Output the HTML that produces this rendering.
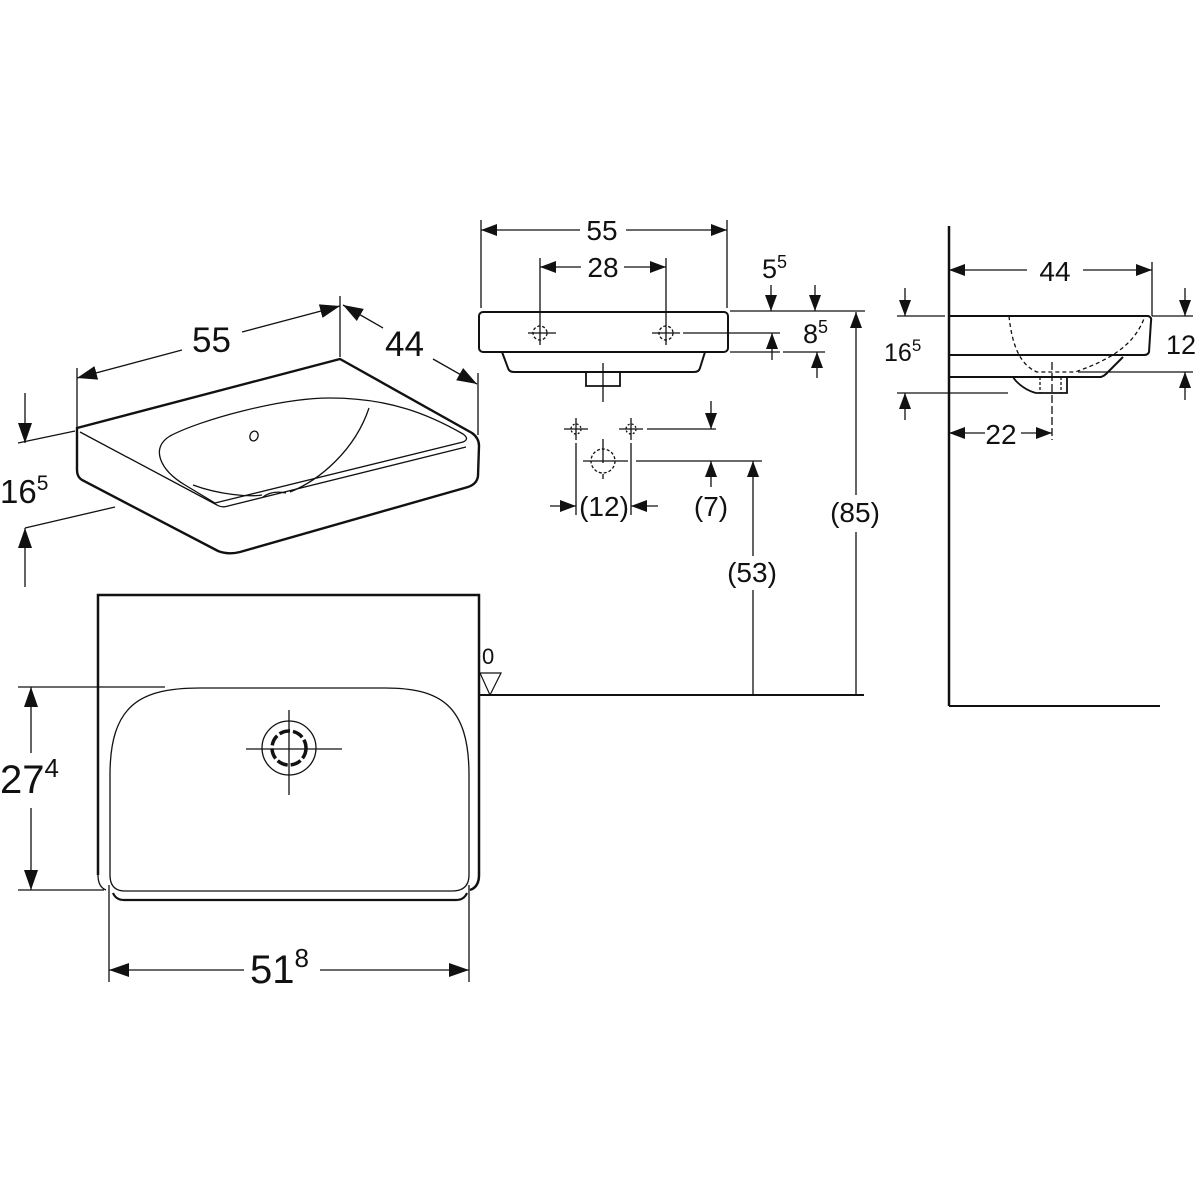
<!DOCTYPE html>
<html><head><meta charset="utf-8"><style>
html,body{margin:0;padding:0;background:#fff;}
svg{display:block;}
text{font-family:"Liberation Sans",sans-serif;fill:#111;}
</style></head><body>
<svg width="1200" height="1200" viewBox="0 0 1200 1200" xmlns="http://www.w3.org/2000/svg">
<defs>
<marker id="a" viewBox="0 0 16 12" refX="16" refY="6" markerWidth="16" markerHeight="12" markerUnits="userSpaceOnUse" orient="auto-start-reverse"><path d="M0,0 L16,6 L0,12 Z" fill="#111"/></marker>
<marker id="b" viewBox="0 0 20 14" refX="20" refY="7" markerWidth="20" markerHeight="14" markerUnits="userSpaceOnUse" orient="auto-start-reverse"><path d="M0,0 L20,7 L0,14 Z" fill="#111"/></marker>
</defs>
<g fill="none" stroke="#111" stroke-width="1.3">
<!-- Perspective view -->
<path d="M77,428 L340,359 L472,433 Q479,438 479,446 L478,476 Q477,484 468,487 L240,552 Q228,555 218,551 L82,480 Q77,477 77,470 Z" stroke-width="2.4"/>
<path d="M80,432 L217,505 Q222,508 228,506 L466,447"/>
<path d="M215,503 L463,442 Q470,439 463,434 C430,415 390,398 330,398 C280,398 200,420 170,436 C150,448 160,470 185,485 Z"/>
<path d="M369,408 C355,450 320,480 290,492"/>
<path d="M193,485 C220,495 250,497 262,495"/>
<path d="M263,497 Q272,490 286,493"/>
<ellipse cx="254" cy="436" rx="4" ry="5" transform="rotate(20 254 436)"/>
<!-- dims perspective -->
<line x1="77" y1="368" x2="77" y2="428"/>
<line x1="340" y1="296" x2="340" y2="357"/>
<line x1="478" y1="373" x2="478" y2="435"/>
<line x1="182" y1="350" x2="77" y2="378" marker-end="url(#b)"/>
<line x1="242" y1="332" x2="340" y2="306" marker-end="url(#b)"/>
<line x1="383" y1="328" x2="343" y2="305" marker-end="url(#b)"/>
<line x1="433" y1="359" x2="477" y2="384" marker-end="url(#b)"/>
<line x1="18" y1="443" x2="75" y2="431"/>
<line x1="25" y1="528" x2="115" y2="507"/>
<line x1="25" y1="393" x2="25" y2="443" marker-end="url(#b)"/>
<line x1="25" y1="587" x2="25" y2="528" marker-end="url(#b)"/>

<!-- Front view -->
<rect x="479" y="312" width="249" height="40" rx="4" stroke-width="2"/>
<path d="M502,352 L508,368 Q509,372 514,372 L694,372 Q699,372 700,368 L705,352" stroke-width="2"/>
<path d="M586,372 V386 H620 V372" stroke-width="1.8"/>
<line x1="603" y1="363" x2="603" y2="402"/>
<line x1="481" y1="220" x2="481" y2="308"/>
<line x1="727" y1="220" x2="727" y2="308"/>
<line x1="580" y1="230" x2="481" y2="230" marker-end="url(#a)"/>
<line x1="626" y1="230" x2="727" y2="230" marker-end="url(#a)"/>
<line x1="540" y1="258" x2="540" y2="345"/>
<line x1="666" y1="258" x2="666" y2="345"/>
<line x1="581" y1="267" x2="540" y2="267" marker-end="url(#a)"/>
<line x1="624" y1="267" x2="666" y2="267" marker-end="url(#a)"/>
<line x1="528" y1="333" x2="556" y2="333"/>
<line x1="652" y1="333" x2="680" y2="333"/>
<circle cx="540" cy="333" r="7" stroke-dasharray="3,2"/>
<circle cx="666" cy="333" r="7" stroke-dasharray="3,2"/>
<line x1="730" y1="311" x2="865" y2="311"/>
<line x1="683" y1="333" x2="780" y2="333"/>
<line x1="730" y1="352" x2="780" y2="352"/>
<line x1="783" y1="352" x2="825" y2="352"/>
<line x1="771" y1="285" x2="771" y2="311" marker-end="url(#a)"/>
<line x1="815" y1="285" x2="815" y2="311" marker-end="url(#a)"/>
<line x1="772" y1="360" x2="772" y2="333" marker-end="url(#a)"/>
<line x1="817" y1="378" x2="817" y2="352" marker-end="url(#a)"/>
<line x1="856" y1="495" x2="856" y2="312" marker-end="url(#a)"/>
<line x1="856" y1="532" x2="856" y2="694"/>
<!-- holes layout -->
<line x1="564" y1="429" x2="588" y2="429"/>
<line x1="576" y1="418" x2="576" y2="440"/>
<circle cx="576" cy="429" r="5" stroke-dasharray="2,2"/>
<line x1="619" y1="429" x2="643" y2="429"/>
<line x1="631" y1="418" x2="631" y2="440"/>
<circle cx="631" cy="429" r="5" stroke-dasharray="2,2"/>
<circle cx="603" cy="461" r="12" stroke-dasharray="3,2"/>
<line x1="603" y1="439" x2="603" y2="463"/>
<line x1="603" y1="474" x2="603" y2="479" />
<line x1="583" y1="461" x2="628" y2="461"/>
<line x1="647" y1="429" x2="716" y2="429"/>
<line x1="636" y1="461" x2="762" y2="461"/>
<line x1="711" y1="401" x2="711" y2="429" marker-end="url(#a)"/>
<line x1="711" y1="487" x2="711" y2="461" marker-end="url(#a)"/>
<line x1="753" y1="556" x2="753" y2="461" marker-end="url(#a)"/>
<line x1="753" y1="590" x2="753" y2="694"/>
<line x1="576" y1="443" x2="576" y2="515"/>
<line x1="631" y1="443" x2="631" y2="515"/>
<line x1="550" y1="506" x2="576" y2="506" marker-end="url(#a)"/>
<line x1="658" y1="506" x2="631" y2="506" marker-end="url(#a)"/>

<!-- Side view -->
<line x1="949" y1="226" x2="949" y2="706" stroke-width="2.5"/>
<line x1="949" y1="706" x2="1160" y2="706" stroke-width="2"/>
<path d="M950,316 L1148,316 Q1152,317 1151,321 L1149,352 Q1148,355 1144,355 L950,355" stroke-width="2"/>
<path d="M950,377 L1101,377 Q1104,376 1106,374 L1123,357" stroke-width="2"/>
<path d="M1013,377 C1018,385 1028,391 1036,393 L1067,393 V377" stroke-width="1.8"/>
<path d="M1009,316 C1012,345 1020,365 1037,372 L1075,372 C1110,360 1135,345 1145,316" stroke-dasharray="4,3"/>
<line x1="1040" y1="377" x2="1040" y2="393" stroke-dasharray="3,2"/>
<line x1="1061" y1="377" x2="1061" y2="393" stroke-dasharray="3,2"/>
<line x1="1052" y1="362" x2="1052" y2="440" stroke-dasharray="8,3"/>
<line x1="1152" y1="262" x2="1152" y2="316"/>
<line x1="1027" y1="270" x2="949" y2="270" marker-end="url(#a)"/>
<line x1="1083" y1="270" x2="1152" y2="270" marker-end="url(#a)"/>
<line x1="1152" y1="316" x2="1193" y2="316"/>
<line x1="1078" y1="372" x2="1193" y2="372"/>
<line x1="1185" y1="288" x2="1185" y2="316" marker-end="url(#a)"/>
<line x1="1185" y1="400" x2="1185" y2="372" marker-end="url(#a)"/>
<line x1="897" y1="316" x2="945" y2="316"/>
<line x1="897" y1="393" x2="1008" y2="393"/>
<line x1="905" y1="288" x2="905" y2="316" marker-end="url(#a)"/>
<line x1="905" y1="420" x2="905" y2="393" marker-end="url(#a)"/>
<line x1="985" y1="433" x2="949" y2="433" marker-end="url(#a)"/>
<line x1="1021" y1="433" x2="1052" y2="433" marker-end="url(#a)"/>

<!-- Top view -->
<path d="M98,875 V595 H479 V875 Q479,887 470,890" stroke-width="2.5"/>
<path d="M98,875 Q98,887 106,890"/>
<path d="M113,893 Q116,900 124,900 H456 Q464,900 467,893" stroke-width="2.2"/>
<path d="M110,875 V775 C110,705 140,688 200,688 H385 C440,688 469,705 469,775 V875 Q469,891 452,891 H125 Q110,891 110,875 Z"/>
<circle cx="289" cy="748" r="27"/>
<circle cx="289" cy="748" r="17" stroke-width="3.5" stroke-dasharray="11,3"/>
<line x1="246" y1="749" x2="342" y2="749"/>
<line x1="289" y1="710" x2="289" y2="795"/>
<line x1="18" y1="687" x2="165" y2="687"/>
<line x1="18" y1="890" x2="104" y2="890"/>
<line x1="31" y1="753" x2="31" y2="687" marker-end="url(#b)"/>
<line x1="31" y1="808" x2="31" y2="890" marker-end="url(#b)"/>
<line x1="109" y1="885" x2="109" y2="982"/>
<line x1="469" y1="885" x2="469" y2="982"/>
<line x1="244" y1="970" x2="109" y2="970" marker-end="url(#b)"/>
<line x1="320" y1="970" x2="469" y2="970" marker-end="url(#b)"/>
<path d="M480,673 H501 L490,695 Z" stroke-width="1.2"/>
<line x1="479" y1="695" x2="864" y2="695" stroke-width="2"/>
</g>
<!-- texts -->
<g font-size="35">
<text x="192" y="352">55</text>
<text x="385" y="356">44</text>
</g>
<text x="0" y="503" font-size="33">16<tspan font-size="21" dy="-13">5</tspan></text>
<g font-size="28" text-anchor="middle">
<text x="602" y="240">55</text>
<text x="603" y="277">28</text>
<text x="1055" y="281">44</text>
<text x="1001" y="444">22</text>
<text x="604" y="516">(12)</text>
<text x="711" y="516">(7)</text>
<text x="752" y="582">(53)</text>
<text x="855" y="522">(85)</text>
</g>
<text x="762" y="278" font-size="27">5<tspan font-size="18" dy="-10">5</tspan></text>
<text x="803" y="343" font-size="27">8<tspan font-size="18" dy="-10">5</tspan></text>
<text x="1166" y="354" font-size="27">12</text>
<text x="884" y="361" font-size="25">16<tspan font-size="17" dy="-10">5</tspan></text>
<text x="482" y="664" font-size="22">0</text>
<text x="0" y="793" font-size="40">27<tspan font-size="26" dy="-16">4</tspan></text>
<text x="250" y="983" font-size="40">51<tspan font-size="26" dy="-16">8</tspan></text>
</svg>
</body></html>
